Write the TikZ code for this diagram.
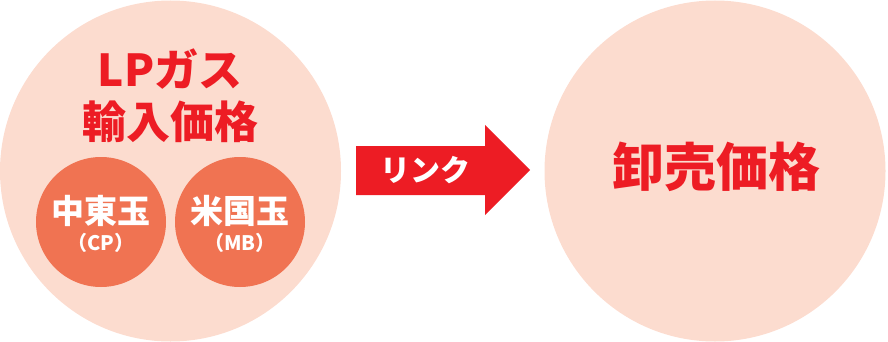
\documentclass[tikz,border=0pt]{standalone}
\usepackage{fontspec}
\setmainfont{Noto Sans CJK JP}
\definecolor{pinkbg}{HTML}{FCDCCF}
\definecolor{salmon}{HTML}{F07352}
\definecolor{redtxt}{HTML}{ED1C24}
\tikzset{
  bigcirc/.style={circle, fill=pinkbg, minimum size=341pt, inner sep=0pt},
  smallcirc/.style={circle, fill=salmon, minimum size=130pt, inner sep=0pt},
  redlbl/.style={text=redtxt, font=\fontsize{44}{48}\selectfont\bfseries, inner sep=0pt},
  whitelbl/.style={text=white, font=\fontsize{33}{36}\selectfont\bfseries, inner sep=0pt},
  sublbl/.style={text=white, font=\fontsize{20}{22}\selectfont\bfseries, inner sep=0pt},
}
\begin{document}
\begin{tikzpicture}[x=1pt, y=-1pt]
\useasboundingbox (0,0) rectangle (888,342);
\node[bigcirc] (L) at (170.5,171) {};
\node[bigcirc] (R) at (715,171) {};
\node[smallcirc] (C1) at (101,222) {};
\node[smallcirc] (C2) at (240,222) {};
\node[redlbl] (t1) at (170,69) {LPガス};
\node[redlbl] (t2) at (170,122) {輸入価格};
\node[whitelbl] (c1) at (101,211) {中東玉};
\node[sublbl] (c1s) at (101,243) {（CP）};
\node[whitelbl] (c2) at (240,211) {米国玉};
\node[sublbl] (c2s) at (240,243) {（MB）};
\node[redlbl, font=\fontsize{52}{56}\selectfont\bfseries] (w) at (716,167) {卸売価格};
\fill[redtxt] (356,146) -- (485,146) -- (485,125) -- (530,170) -- (485,215) -- (485,195) -- (356,195) -- cycle;
\node[text=white, font=\fontsize{30}{32}\selectfont\bfseries, inner sep=0pt] (lk) at (425,170) {リンク};
\end{tikzpicture}
\end{document}
